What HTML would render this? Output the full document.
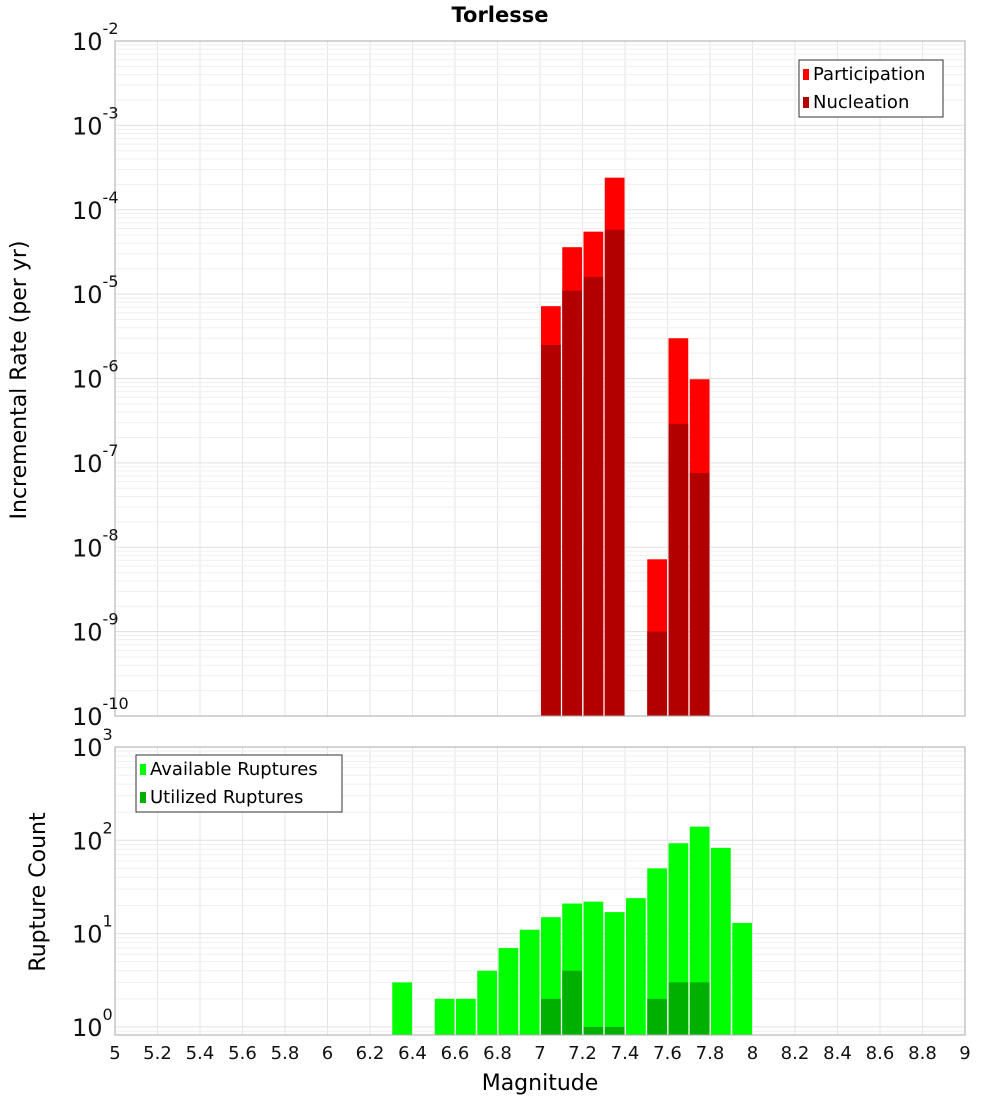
<!DOCTYPE html>
<html><head><meta charset="utf-8"><style>
body{margin:0;background:#fff;font-family:"Liberation Sans","DejaVu Sans",sans-serif}
svg text{font-family:"DejaVu Sans","Liberation Sans",sans-serif}
</style></head><body>
<svg id="c" width="1000" height="1100" xmlns="http://www.w3.org/2000/svg"></svg>
<script>
const bins=[7.0,7.1,7.2,7.3,7.5,7.6,7.7];
const participation=[7.2e-6,3.6e-5,5.5e-5,2.4e-4,7.2e-9,3.0e-6,9.8e-7];
const nucleation=[2.5e-6,1.1e-5,1.6e-5,5.8e-5,1.0e-9,2.9e-7,7.6e-8];
const cntBins=[6.3,6.5,6.6,6.7,6.8,6.9,7.0,7.1,7.2,7.3,7.4,7.5,7.6,7.7,7.8,7.9];
const available=[3,2,2,4,7,11,15,21,22,17,24,50,93,140,83,13];
const utilBins=[7.0,7.1,7.2,7.3,7.5,7.6,7.7];
const utilized=[2,4,1,1,2,3,3];
const xTicks=[5,5.2,5.4,5.6,5.8,6,6.2,6.4,6.6,6.8,7,7.2,7.4,7.6,7.8,8,8.2,8.4,8.6,8.8,9];
const topExp=[-2,-3,-4,-5,-6,-7,-8,-9,-10];
const botExp=[3,2,1,0];

const S=document.getElementById('c');const NS='http://www.w3.org/2000/svg';
function el(t,a,p){const e=document.createElementNS(NS,t);for(const k in a)e.setAttribute(k,a[k]);(p||S).appendChild(e);return e;}
const X0=115,X1=965;
const x=m=>X0+(m-5)/4*(X1-X0);
const T0=41,T1=716,B0=747,B1=1035;
const yT=v=>T0+(-2-Math.log10(v))*84.375;
const yB=v=>B0+(3-Math.log10(v))*93.3;
// plot backgrounds & grids
function grid(y0,y1,yf,lo,hi,name){
  const g=el('g',{});
  for(let m=5;m<=9.001;m+=0.2){el('line',{x1:x(m),x2:x(m),y1:y0,y2:y1,stroke:'#e6e6e6','stroke-width':1},g);}
  for(let e=lo;e<hi;e++)for(let k=1;k<10;k++){const yy=yf(k*Math.pow(10,e));if(yy>=y0&&yy<=y1)el('line',{x1:X0,x2:X1,y1:yy,y2:yy,stroke:k==1?'#e0e0e0':'#efefef','stroke-width':1},g);}
}
grid(T0,T1,yT,-10,-2,'top');grid(B0,B1,yB,-1,3,'bottom');
// top bars
const bw=x(5.1)-x(5)-1.5;
bins.forEach((b,i)=>{
  const r=el('rect',{x:x(b)+1,y:yT(participation[i]),width:bw,height:T1-yT(participation[i]),fill:'#ff0000'});
  
  const n=el('rect',{x:x(b)+1,y:yT(nucleation[i]),width:bw,height:T1-yT(nucleation[i]),fill:'#b20000'});
  
});
cntBins.forEach((b,i)=>{
  const r=el('rect',{x:x(b)+1,y:yB(available[i]),width:bw,height:B1-yB(available[i]),fill:'#00ff00'});
  
});
utilBins.forEach((b,i)=>{
  const r=el('rect',{x:x(b)+1,y:yB(utilized[i]),width:bw,height:B1-yB(utilized[i]),fill:'#00b000'});
  
});
el('rect',{x:X0,y:T0,width:X1-X0,height:T1-T0,fill:'none',stroke:'#aaa'});
el('rect',{x:X0,y:B0,width:X1-X0,height:B1-B0,fill:'none',stroke:'#aaa'});
// y tick labels
function ylab(yy,e,name){const t=el('text',{x:72,y:yy+9,'font-size':24,fill:'#111'});
  t.textContent='10';const s=el('tspan',{dy:-16,'font-size':16},t);s.textContent=String(e);}
topExp.forEach(e=>ylab(yT(Math.pow(10,e)),e,'y-tick-label'));
botExp.forEach(e=>ylab(yB(Math.pow(10,e)),e,'y2-tick-label'));
xTicks.forEach(m=>{const t=el('text',{x:x(m),y:1059,'font-size':18,'text-anchor':'middle',fill:'#111'});t.textContent=String(m);});
let t=el('text',{x:500,y:22,'font-size':21,'font-weight':'bold','text-anchor':'middle'});t.textContent='Torlesse';
t=el('text',{x:540,y:1090,'font-size':22,'text-anchor':'middle'});t.textContent='Magnitude';
t=el('text',{x:0,y:0,'font-size':22,'text-anchor':'middle',transform:'translate(26,380) rotate(-90)'});t.textContent='Incremental Rate (per yr)';
t=el('text',{x:0,y:0,'font-size':22,'text-anchor':'middle',transform:'translate(45,892) rotate(-90)'});t.textContent='Rupture Count';
function legend(x0,y0,w,items,name){const g=el('g',{});
  el('rect',{x:x0,y:y0,width:w,height:57,fill:'#fff',stroke:'#333'},g);
  items.forEach((it,i)=>{el('rect',{x:x0+4,y:y0+9+i*28,width:6,height:11,fill:it[1]},g);const tt=el('text',{x:x0+14,y:y0+20+i*28,'font-size':18},g);tt.textContent=it[0];});}
legend(799,60,144,[['Participation','#ff0000'],['Nucleation','#b20000']],'top-legend');
legend(136,755,206,[['Available Ruptures','#00ff00'],['Utilized Ruptures','#00b000']],'bottom-legend');
</script>
</body></html>
